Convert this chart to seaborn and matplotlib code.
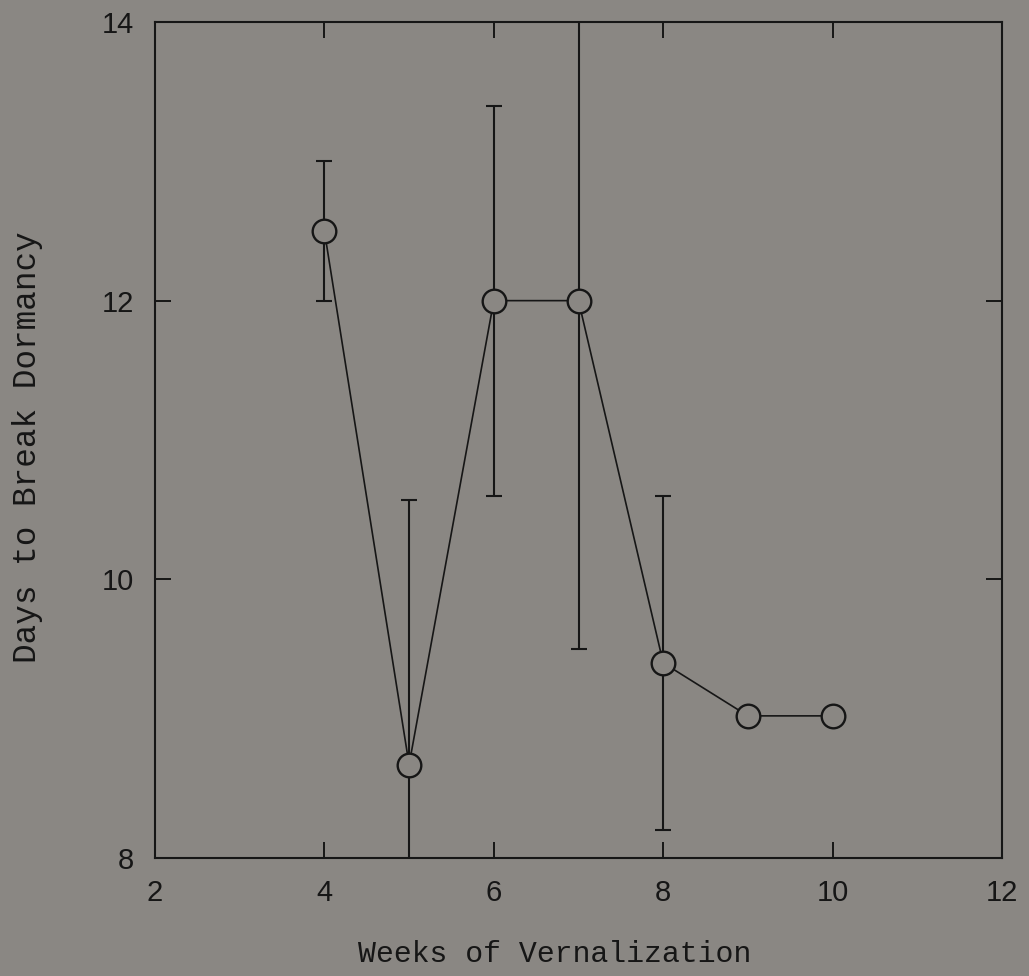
import matplotlib
matplotlib.use("Agg")
import matplotlib.pyplot as plt
import seaborn as sns
import pandas as pd

weeks = [4, 5, 6, 7, 8, 9, 10]
days = [12.5, 8.67, 12.0, 12.0, 9.4, 9.02, 9.02]
err = [0.5, 1.9, 1.4, 2.5, 1.2, 0.0, 0.0]
xticks = [2, 4, 6, 8, 10, 12]
yticks = [8, 10, 12, 14]

BG = "#8a8783"
INK = "#161616"

sns.set_theme(style="ticks")
plt.rcParams['font.family'] = ['Liberation Sans', 'DejaVu Sans']

fig = plt.figure(figsize=(10.29, 9.76), dpi=100, facecolor=BG)
ax = fig.add_axes([0.1506, 0.1209, 0.8232, 0.8566], facecolor=BG)

df = pd.DataFrame({"weeks": weeks, "days": days})

ax.errorbar(weeks, days, yerr=err, fmt='none', ecolor=INK, elinewidth=1.5,
            capsize=5.8, capthick=1.5, zorder=2)
sns.lineplot(data=df, x="weeks", y="days", ax=ax, color=INK, linewidth=1.2,
             marker='o', markersize=17, markerfacecolor=BG,
             markeredgecolor=INK, markeredgewidth=1.7, zorder=3)

ax.set_xlim(2, 12)
ax.set_ylim(8, 14)
ax.set_xticks(xticks)
ax.set_yticks(yticks)
ax.set_xticklabels([str(t) for t in xticks])
ax.set_yticklabels([str(t) for t in yticks])
ax.tick_params(direction='in', length=11.5, width=1.4, color=INK,
               top=True, right=True, labelsize=21, labelcolor=INK, pad=15)

for s in ax.spines.values():
    s.set_visible(True)
    s.set_color(INK)
    s.set_linewidth(1.5)

ax.set_xlabel("")
ax.set_ylabel("")
fig.text(0.539, 0.0225, "Weeks of Vernalization",
         family=['Liberation Mono', 'DejaVu Sans Mono'],
         fontsize=21.5, color=INK, ha='center', va='center')
fig.text(0.0272, 0.542, "Days to Break Dormancy",
         family=['Liberation Mono', 'DejaVu Sans Mono'],
         fontsize=23.5, color=INK, ha='center', va='center', rotation=90)

fig.savefig("out.png", dpi=100, facecolor=BG)
